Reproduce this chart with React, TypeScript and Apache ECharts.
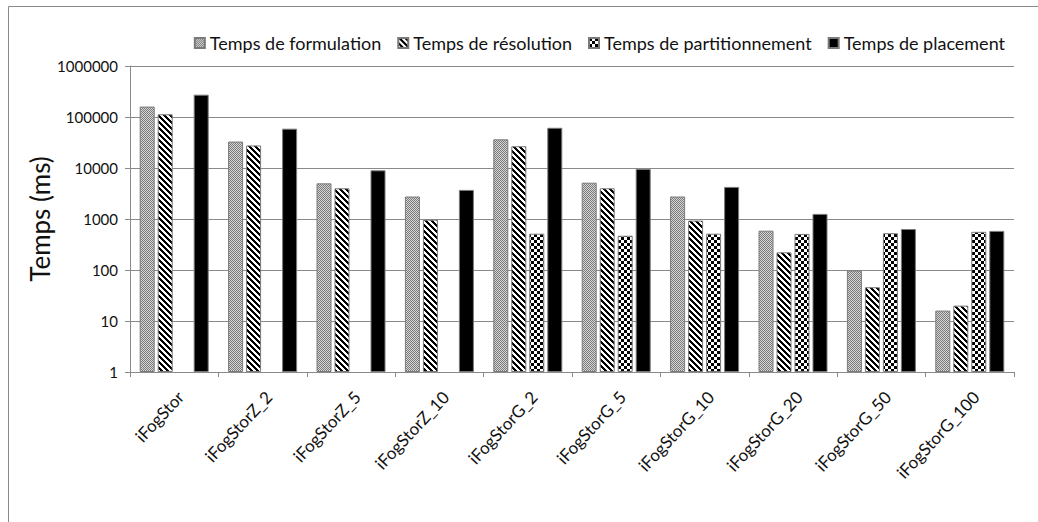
import React, { useEffect, useRef } from "react";
import * as echarts from "echarts";

const categories = [
  "iFogStor",
  "iFogStorZ_2",
  "iFogStorZ_5",
  "iFogStorZ_10",
  "iFogStorG_2",
  "iFogStorG_5",
  "iFogStorG_10",
  "iFogStorG_20",
  "iFogStorG_50",
  "iFogStorG_100",
];
const seriesNames = [
  "Temps de formulation",
  "Temps de résolution",
  "Temps de partitionnement",
  "Temps de placement",
];
const formulation = [160000, 33000, 5000, 2760, 36500, 5150, 2760, 590, 98, 16];
const resolution = [113000, 27700, 4000, 970, 26700, 4000, 930, 222, 46, 20];
const partitioning = [null, null, null, null, 515, 470, 515, 510, 526, 560];
const placement = [274000, 59000, 9000, 3720, 61500, 9560, 4260, 1260, 636, 585];
const yTicks = [1, 10, 100, 1000, 10000, 100000, 1000000];

function makeTile(size: number, fn: (x: number, y: number) => string) {
  const c = document.createElement("canvas");
  c.width = size;
  c.height = size;
  const ctx = c.getContext("2d")!;
  for (let y = 0; y < size; y++) {
    for (let x = 0; x < size; x++) {
      ctx.fillStyle = fn(x, y);
      ctx.fillRect(x, y, 1, 1);
    }
  }
  return { image: c.toDataURL(), repeat: "repeat", imageWidth: size, imageHeight: size } as any;
}

export default function App() {
  const ref = useRef<HTMLDivElement>(null);
  useEffect(() => {
    if (!ref.current) return;
    const chart = echarts.init(ref.current, undefined, { renderer: "svg" });

    const dotted = makeTile(4, (x, y) => ((x + y) % 2 === 0 ? "#7a7a7a" : "#d6d6d6"));
    const stripes = makeTile(6, (x, y) => (((x - y + 12) % 6) < 3 ? "#000000" : "#ffffff"));
    const checker = makeTile(6, (x, y) =>
      (Math.floor(x / 3) + Math.floor(y / 3)) % 2 === 0 ? "#000000" : "#ffffff"
    );
    const fills = [dotted, stripes, checker, "#000000"];
    const datas = [formulation, resolution, partitioning, placement];
    const font = "Lato";

    chart.setOption({
      animation: false,
      backgroundColor: "#ffffff",
      textStyle: { fontFamily: font },
      graphic: [
        {
          type: "rect",
          shape: { x: 8.5, y: 6.5, width: 1100, height: 600 },
          style: { fill: "none", stroke: "#8a8a8a", lineWidth: 1 },
          silent: true,
        },
      ],
      legend: {
        right: 28,
        top: 29,
        icon: "rect",
        itemWidth: 10,
        itemHeight: 10,
        itemGap: 16,
        textStyle: { fontFamily: font, fontSize: 18, color: "#111" },
        data: seriesNames,
      },
      grid: { left: 130, right: 24, top: 66, bottom: 150, containLabel: false },
      xAxis: {
        type: "category",
        data: categories,
        axisLine: { lineStyle: { color: "#8a8a8a" } },
        axisTick: { show: true, length: 5, lineStyle: { color: "#8a8a8a" } },
        axisLabel: {
          rotate: 47,
          interval: 0,
          fontFamily: font,
          fontSize: 17,
          color: "#111",
          margin: 16,
          verticalAlign: "top",
        },
      },
      yAxis: {
        type: "log",
        logBase: 10,
        min: 1,
        max: 1000000,
        name: "Temps (ms)",
        nameLocation: "middle",
        nameGap: 77,
        nameMoveOverlap: false,
        nameTextStyle: { fontFamily: font, fontSize: 26, color: "#111" },
        axisLine: { show: true, lineStyle: { color: "#8a8a8a" } },
        axisTick: { show: true, length: 5, lineStyle: { color: "#8a8a8a" } },
        splitLine: { show: true, lineStyle: { color: "#8a8a8a", width: 1 } },
        axisLabel: {
          fontFamily: font,
          fontSize: 15,
          color: "#111",
          margin: 12,
          formatter: (v: number) => {
            const r = yTicks.find((t) => Math.abs(t - v) / t < 1e-6);
            return r !== undefined ? String(r) : String(Math.round(v));
          },
        },
      },
      series: seriesNames.map((name, i) => ({
        name,
        type: "bar",
        data: datas[i],
        barWidth: 15,
        barGap: "20%",
        itemStyle: { color: fills[i], borderColor: "#7a7a7a", borderWidth: 1 },
      })),
    });
    return () => chart.dispose();
  }, []);
  return (
    <div
      ref={ref}
      style={{ position: "fixed", left: 0, top: 0, width: 1038, height: 522 }}
    />
  );
}
